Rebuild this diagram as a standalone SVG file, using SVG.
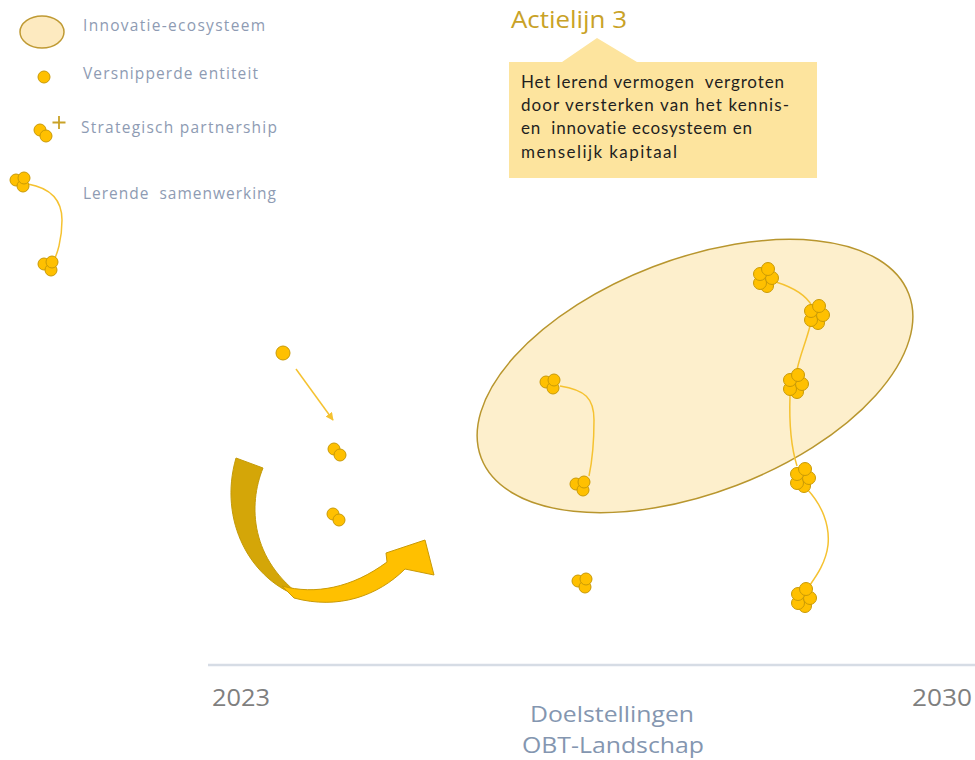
<svg xmlns="http://www.w3.org/2000/svg" xmlns:xlink="http://www.w3.org/1999/xlink" width="975" height="760" viewBox="0 0 975 760">
<defs>
<style>
.dot{fill:#FFC000;stroke:#C99A06;stroke-width:1}
.link{fill:none;stroke:#F5C231;stroke-width:1.5}
.leg{font-family:"Open Sans","Liberation Sans",sans-serif;font-size:15.5px;fill:#8E9BB3}
.box{font-family:Lato,"Liberation Sans",sans-serif;font-size:17px;fill:#1F1F1F;font-variant-ligatures:none}
.axis{font-family:"Open Sans","Liberation Sans",sans-serif;font-size:24px}
.goal{font-family:"Open Sans","Liberation Sans",sans-serif;font-size:22px;fill:#8496B0}
</style>
<g id="c5">
<circle class="dot" cx="2" cy="8" r="6.5"/>
<circle class="dot" cx="-5" cy="5" r="6.5"/>
<circle class="dot" cx="7" cy="0" r="6.5"/>
<circle class="dot" cx="-5" cy="-4" r="6.5"/>
<circle class="dot" cx="3" cy="-9" r="6.5"/>
</g>
<g id="c3">
<circle class="dot" cx="-5" cy="-1" r="6"/>
<circle class="dot" cx="2" cy="5" r="6"/>
<circle class="dot" cx="3" cy="-3" r="6"/>
</g>
<g id="c2">
<circle class="dot" cx="-3" cy="-3" r="6"/>
<circle class="dot" cx="3" cy="3" r="6"/>
</g>
<marker id="ah" viewBox="0 0 10 10" refX="9" refY="5" markerWidth="8" markerHeight="8" markerUnits="userSpaceOnUse" orient="auto">
<path d="M0,0 L10,5 L0,10 z" fill="#F5C231"/>
</marker>
</defs>
<rect width="975" height="760" fill="#FFFFFF"/>

<!-- Legend -->
<g id="legend">
<ellipse cx="42" cy="32" rx="22" ry="16" fill="#FDEAC0" stroke="#BF9A33" stroke-width="1.5"/>
<text class="leg" x="83" y="31" textLength="182" lengthAdjust="spacing">Innovatie-ecosysteem</text>
<circle class="dot" cx="44" cy="77" r="6"/>
<text class="leg" x="83" y="79" textLength="175" lengthAdjust="spacing">Versnipperde entiteit</text>
<use xlink:href="#c2" x="43" y="133"/>
<path d="M59,116 V129 M52.5,122.5 H65.5" stroke="#C9A227" stroke-width="1.8" fill="none"/>
<text class="leg" x="81" y="133" textLength="196" lengthAdjust="spacing">Strategisch partnership</text>
<path class="link" d="M28,184 C50,188 62,200 62,220 C62,240 57,255 53,262"/>
<use xlink:href="#c3" x="21" y="181"/>
<use xlink:href="#c3" x="49" y="265"/>
<text class="leg" x="83" y="199" textLength="193" lengthAdjust="spacing" xml:space="preserve">Lerende  samenwerking</text>
</g>

<!-- Title and callout -->
<g id="title">
<text x="511" y="28" font-family="Open Sans, Liberation Sans, sans-serif" font-size="23" fill="#C9A227" textLength="116" lengthAdjust="spacingAndGlyphs">Actielijn 3</text>
</g>
<g id="callout">
<path d="M509,62 H562 L597,38 L637,62 H817 V178 H509 Z" fill="#FDE49E"/>
<text class="box" x="521" y="88" textLength="263" lengthAdjust="spacing" xml:space="preserve">Het lerend vermogen  vergroten</text>
<text class="box" x="521" y="111" textLength="268" lengthAdjust="spacing">door versterken van het kennis-</text>
<text class="box" x="521" y="134" textLength="231" lengthAdjust="spacing" xml:space="preserve">en  innovatie ecosysteem en</text>
<text class="box" x="521" y="158" textLength="156" lengthAdjust="spacing">menselijk kapitaal</text>
</g>

<!-- Ecosystem ellipse -->
<g id="ecosystem">
<ellipse cx="695" cy="376" rx="229" ry="117" transform="rotate(-21 695 376)" fill="#FDEFCC" stroke="#B8962E" stroke-width="1.5"/>
</g>

<!-- Connectors -->
<g id="connectors">
<path class="link" d="M560,386 C585,390 594,398 594,420 C594,445 592,462 589,476"/>
<path class="link" d="M776,282 C795,288 806,295 812,306"/>
<path class="link" d="M810,326 C806,342 800,355 797,370"/>
<path class="link" d="M790,396 C789,425 792,450 797,466"/>
<path class="link" d="M807,489 C822,505 830,525 828,545 C826,562 817,575 810,585"/>
<path d="M296,369 L333,420" stroke="#F5C231" stroke-width="1.5" fill="none" marker-end="url(#ah)"/>
</g>

<!-- Nodes -->
<g id="n-single"><circle class="dot" cx="283" cy="353" r="7"/></g>
<g id="n-pair1"><use xlink:href="#c2" x="337" y="452"/></g>
<g id="n-pair2"><use xlink:href="#c2" x="336" y="517"/></g>
<g id="n-a"><use xlink:href="#c3" x="551" y="383"/></g>
<g id="n-b"><use xlink:href="#c3" x="581" y="485"/></g>
<g id="n-lone"><use xlink:href="#c3" x="583" y="582"/></g>
<g id="n-c1"><use xlink:href="#c5" x="765" y="278"/></g>
<g id="n-c2"><use xlink:href="#c5" x="816" y="315"/></g>
<g id="n-c3"><use xlink:href="#c5" x="795" y="384"/></g>
<g id="n-c4"><use xlink:href="#c5" x="802" y="478"/></g>
<g id="n-c5"><use xlink:href="#c5" x="803" y="598"/></g>

<!-- Curved arrow -->
<g id="curved-arrow">
<path d="M236,458 L263,468 C248,505 250,560 304,598 C250,582 218,520 236,458 Z" fill="#D4A608" stroke="#C49A06" stroke-width="1"/>
<path d="M282,586 C315,595 352,588 387,562 L386,553 L425,540 L434,575 L405,569 C378,596 338,610 294,598 Z" fill="#FFC000" stroke="#C99A06" stroke-width="1"/>
</g>

<!-- Axis -->
<g id="axis">
<line x1="208" y1="665" x2="975" y2="665" stroke="#D6DCE5" stroke-width="2.5"/>
<text class="axis" x="212" y="706" fill="#7F7F7F" textLength="58" lengthAdjust="spacingAndGlyphs">2023</text>
<text class="axis" x="912" y="706" fill="#7F7F7F" textLength="60" lengthAdjust="spacingAndGlyphs">2030</text>
<text class="goal" x="530" y="722" textLength="164" lengthAdjust="spacingAndGlyphs">Doelstellingen</text>
<text class="goal" x="522" y="753" textLength="182" lengthAdjust="spacingAndGlyphs">OBT-Landschap</text>
</g>
</svg>
